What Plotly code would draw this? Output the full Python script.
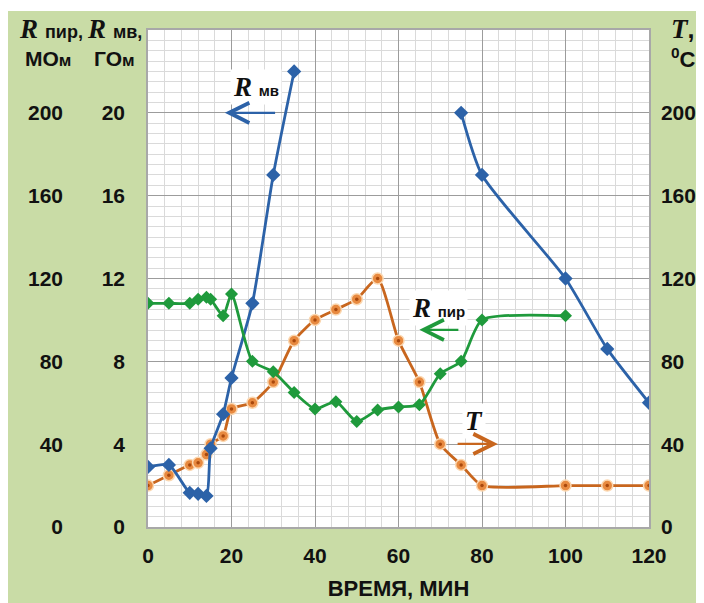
import plotly.graph_objects as go

# ---- data ----
t_mv = [0, 5, 10, 12, 14, 15, 18, 20, 25, 30, 35, None, 75, 80, 100, 110, 120]
r_mv = [2.9, 3.0, 1.65, 1.6, 1.5, 3.8, 5.45, 7.2, 10.8, 17.0, 22.0, None, 20.0, 17.0, 12.0, 8.6, 6.0]

t_pir = [0, 5, 10, 12, 14, 15, 18, 20, 25, 30, 35, 40, 45, 50, 55, 60, 65, 70, 75, 80, 100]
r_pir = [108, 108, 108, 110, 111, 110, 102, 112.5, 80, 75, 65, 57, 60.5, 51, 56.5, 58, 59, 74, 80, 100, 102]

t_T = [0, 5, 10, 12, 14, 15, 18, 20, 25, 30, 35, 40, 45, 50, 55, 60, 65, 70, 75, 80, 100, 110, 120]
T_vals = [20, 25, 30, 31, 35, 40, 44, 57, 60, 70, 90, 100, 105, 110, 120, 90, 70, 40, 30, 20, 20, 20, 20]

x_ticks = [0, 20, 40, 60, 80, 100, 120]
mv_ticks = [0, 4, 8, 12, 16, 20]
pir_ticks = [0, 40, 80, 120, 160, 200]
T_ticks = [0, 40, 80, 120, 160, 200]

BLUE = "#2c62a8"
GREEN = "#1f9a3c"
ORANGE = "#c8661e"
BG = "#c9dca6"
W, H = 704, 603
OX, OY = 8, 8  # page offset of the figure inside the browser window

fig = go.Figure()

fig.add_trace(go.Scatter(
    x=t_T, y=T_vals, yaxis="y", mode="lines+markers",
    line=dict(color=ORANGE, width=2.8, shape="spline", smoothing=0.6),
    marker=dict(symbol="circle", size=11, color="#e88a40",
                line=dict(color="#fbd7b0", width=1.5)),
    name="T", showlegend=False))
fig.add_trace(go.Scatter(
    x=t_T, y=T_vals, yaxis="y", mode="markers",
    marker=dict(symbol="circle", size=3.5, color="#a9480c"),
    hoverinfo="skip", showlegend=False))

fig.add_trace(go.Scatter(
    x=t_pir, y=r_pir, yaxis="y3", mode="lines+markers",
    line=dict(color=GREEN, width=2.8, shape="spline", smoothing=0.6),
    marker=dict(symbol="diamond", size=10, color=GREEN),
    name="R пир", showlegend=False))

fig.add_trace(go.Scatter(
    x=t_mv, y=r_mv, yaxis="y2", mode="lines+markers", connectgaps=False,
    line=dict(color=BLUE, width=2.8, shape="spline", smoothing=0.6),
    marker=dict(symbol="diamond", size=11, color=BLUE),
    name="R мв", showlegend=False))

tickfont = dict(family="Liberation Sans", size=21, color="#111111", weight="bold")

fig.update_layout(
    width=W, height=H,
    margin=dict(l=0, r=0, t=0, b=0),
    paper_bgcolor=BG, plot_bgcolor="white",
    showlegend=False,
    xaxis=dict(
        domain=[(148 - OX) / W, (649 - OX) / W], range=[0, 120],
        tickvals=x_ticks, ticks="", ticklabelstandoff=9,
        tickfont=tickfont,
        showgrid=True, gridcolor="#9c9c9c", gridwidth=1.2,
        minor=dict(dtick=4, showgrid=True, gridcolor="#dadada", gridwidth=1),
        zeroline=False, showline=True, linecolor="#a8a8a8", linewidth=1.5, mirror=True,
        title=dict(text="ВРЕМЯ, МИН", standoff=15,
                   font=dict(family="Liberation Sans", size=22, color="#111111", weight="bold")),
        automargin=False,
    ),
    yaxis=dict(
        domain=[1 - (527 - OY) / H, 1 - (30 - OY) / H], range=[0, 240],
        side="right", tickvals=T_ticks, ticks="", ticklabelstandoff=6,
        tickfont=tickfont,
        showgrid=True, gridcolor="#9c9c9c", gridwidth=1.2,
        minor=dict(dtick=5, showgrid=True, gridcolor="#dadada", gridwidth=1),
        zeroline=False, showline=True, linecolor="#a8a8a8", linewidth=1.5, mirror=True,
        automargin=False,
    ),
    yaxis2=dict(
        overlaying="y", side="left", range=[0, 24],
        tickvals=mv_ticks, ticks="", ticklabelstandoff=22,
        tickfont=tickfont, showgrid=False, zeroline=False, showline=False,
        automargin=False,
    ),
    yaxis3=dict(
        overlaying="y", side="left", anchor="free", position=(63 - OX) / W, range=[0, 240],
        tickvals=pir_ticks, ticks="", ticklabelstandoff=0,
        tickfont=tickfont, showgrid=False, zeroline=False, showline=False,
        automargin=False,
    ),
)

# thin white strip at the top edge of the picture
fig.add_shape(type="rect", xref="paper", yref="paper", x0=0, x1=1, y0=1 - 3 / H, y1=1,
              fillcolor="white", line=dict(width=0))

def px(xp, yp):
    return dict(xref="paper", yref="paper", x=(xp - OX) / W, y=1 - (yp - OY) / H)

R = '<span style="font-family:Liberation Serif;font-size:27px"><b><i>R</i></b></span>'

headers = [
    (51, 29, R + ' <span style="font-size:18px">пир,</span>', 25),
    (48, 59, "МО<span style=\"font-size:17px\">м</span>", 21),
    (114, 29, R + ' <span style="font-size:18px">мв,</span>', 25),
    (114, 59, "ГО<span style=\"font-size:17px\">м</span>", 21),
    (682, 29, '<span style="font-family:Liberation Serif;font-size:27px"><b><i>T</i></b></span>,', 25),
    (683, 58, "<sup>0</sup>C", 22),
]
for xp, yp, txt, sz in headers:
    fig.add_annotation(**px(xp, yp), text=txt, showarrow=False,
                       xanchor="center", yanchor="middle",
                       font=dict(family="Liberation Sans", size=sz, color="#111111", weight="bold"))

# in-plot labels
labels = [
    (25.9, 212.6, R + ' <span style="font-size:15px">мв</span>'),
    (69.5, 105.8, R + ' <span style="font-size:15px">пир</span>'),
    (78.0, 51.4, '<span style="font-family:Liberation Serif;font-size:27px"><b><i>T</i></b></span>'),
]
for xv, yv, txt in labels:
    fig.add_annotation(xref="x", yref="y", x=xv, y=yv, text=txt, showarrow=False,
                       bgcolor="white", borderpad=2,
                       font=dict(family="Liberation Sans", size=24, color="#111111", weight="bold"))

# arrows (head at x, tail at ax)
arrows = [
    (18.4, 30.8, 200, BLUE),
    (65.0, 74.7, 95.2, GREEN),
    (83.8, 73.8, 40.1, ORANGE),
]
for xh, xt, yv, col in arrows:
    fig.add_annotation(xref="x", yref="y", axref="x", ayref="y",
                       x=xh, y=yv, ax=xt, ay=yv, text="", showarrow=True,
                       arrowhead=5, arrowsize=1.8, arrowwidth=2.2, arrowcolor=col)

fig.write_html("out.html")
